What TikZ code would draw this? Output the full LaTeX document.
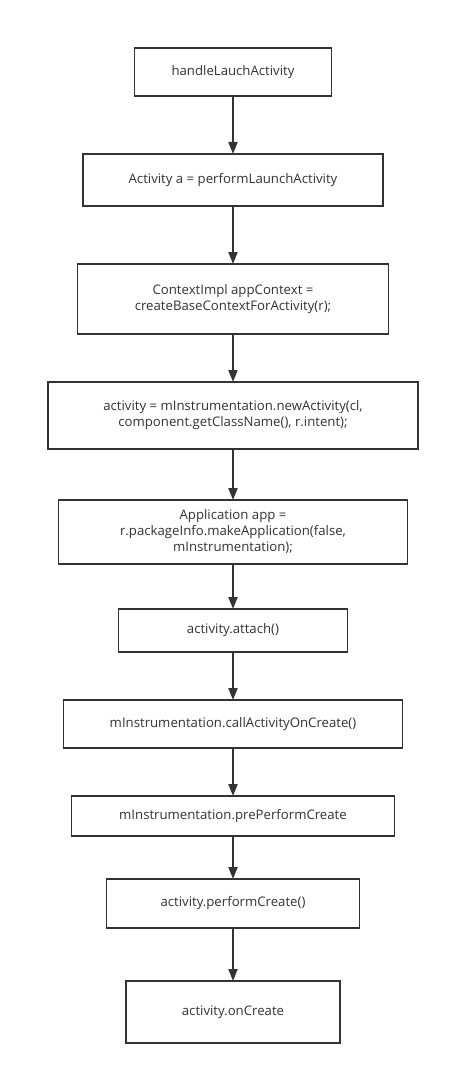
\documentclass[tikz,border=0pt]{standalone}
\usepackage{fontspec}
\setmainfont{Open Sans}
\usepackage{xcolor}
\usetikzlibrary{positioning,arrows.meta}
\definecolor{linegray}{HTML}{333333}

\begin{document}
\begin{tikzpicture}[
    x=1pt,y=1pt,
    stepbox/.style={rectangle,draw=linegray,line width=1.5pt,outer sep=0pt,font=\fontsize{13.2}{16}\selectfont,text=linegray,align=center,inner sep=0pt},
    arrow/.style={-{Triangle[length=12pt,width=9pt]},line width=2pt,linegray}
]
\useasboundingbox (0,0) rectangle (450,-1075);

\node[stepbox,minimum width=197pt,minimum height=48pt] (launch) at (233,-72) {handleLauchActivity};
\node[stepbox,below=58pt of launch,minimum width=300pt,minimum height=52pt] (perform) {Activity a = performLaunchActivity};
\node[stepbox,below=58pt of perform,minimum width=311pt,minimum height=70pt] (context) {ContextImpl appContext =\\createBaseContextForActivity(r);};
\node[stepbox,below=48pt of context,minimum width=370pt,minimum height=67pt] (newact) {activity = mInstrumentation.newActivity(cl,\\component.getClassName(), r.intent);};
\node[stepbox,below=51pt of newact,minimum width=349pt,minimum height=64pt] (makeapp) {Application app =\\r.packageInfo.makeApplication(false,\\mInstrumentation);};
\node[stepbox,below=45pt of makeapp,minimum width=229pt,minimum height=43pt] (attach) {activity.attach()};
\node[stepbox,below=48pt of attach,minimum width=339pt,minimum height=48pt] (callcreate) {mInstrumentation.callActivityOnCreate()};
\node[stepbox,below=48pt of callcreate,minimum width=323pt,minimum height=40pt] (precreate) {mInstrumentation.prePerformCreate};
\node[stepbox,below=43pt of precreate,minimum width=253pt,minimum height=49pt] (docreate) {activity.performCreate()};
\node[stepbox,below=53pt of docreate,minimum width=214pt,minimum height=62pt] (oncreate) {activity.onCreate};

\draw[arrow] (launch) -- (perform);
\draw[arrow] (perform) -- (context);
\draw[arrow] (context) -- (newact);
\draw[arrow] (newact) -- (makeapp);
\draw[arrow] (makeapp) -- (attach);
\draw[arrow] (attach) -- (callcreate);
\draw[arrow] (callcreate) -- (precreate);
\draw[arrow] (precreate) -- (docreate);
\draw[arrow] (docreate) -- (oncreate);

\end{tikzpicture}
\end{document}
